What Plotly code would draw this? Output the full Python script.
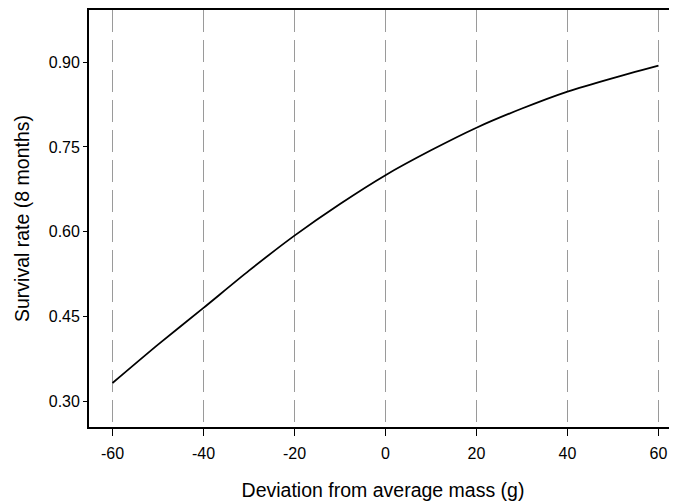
import plotly.graph_objects as go

mass_dev = [-60, -50, -40, -30, -20, -10, 0, 10, 20, 30, 40, 50, 60]
survival = [0.332, 0.400, 0.465, 0.531, 0.593, 0.649, 0.700, 0.744, 0.784, 0.818, 0.848, 0.872, 0.894]
x_ticks = [-60, -40, -20, 0, 20, 40, 60]
y_ticks = [0.30, 0.45, 0.60, 0.75, 0.90]

fig = go.Figure()
fig.add_trace(go.Scatter(x=mass_dev, y=survival, mode="lines",
                         line=dict(color="black", width=1.8, shape="spline", smoothing=0.6),
                         showlegend=False, hoverinfo="skip"))

font = dict(family="Liberation Sans, Arial, sans-serif", color="black")
# page body has an 8px margin, so the figure is 8px smaller than the window
fig.update_layout(
    width=669, height=493,
    margin=dict(l=81, r=0, t=0, b=74),
    paper_bgcolor="white", plot_bgcolor="white",
    font=dict(size=16, **font),
    xaxis=dict(range=[-65.16, 64.07], tickvals=x_ticks, ticktext=[str(v) for v in x_ticks],
               showgrid=True, gridcolor="#9a9a9a", griddash="22px,8px", gridwidth=0.8,
               showline=True, linecolor="black", linewidth=1.8, mirror=True,
               ticks="outside", ticklen=7, tickcolor="black", tickwidth=1.2,
               ticklabelstandoff=4,
               zeroline=False,
               title=dict(text="Deviation from average mass (g)", font=dict(size=19.5, **font), standoff=22)),
    yaxis=dict(range=[0.2542, 0.9924], tickvals=y_ticks, ticktext=[f"{v:.2f}" for v in y_ticks],
               showgrid=False, showline=True, linecolor="black", linewidth=1.8,
               ticks="outside", ticklen=4, tickcolor="black", tickwidth=1.2,
               zeroline=False,
               title=dict(text="Survival rate (8 months)", font=dict(size=19.5, **font), standoff=14)),
)
fig.write_html("out.html")
